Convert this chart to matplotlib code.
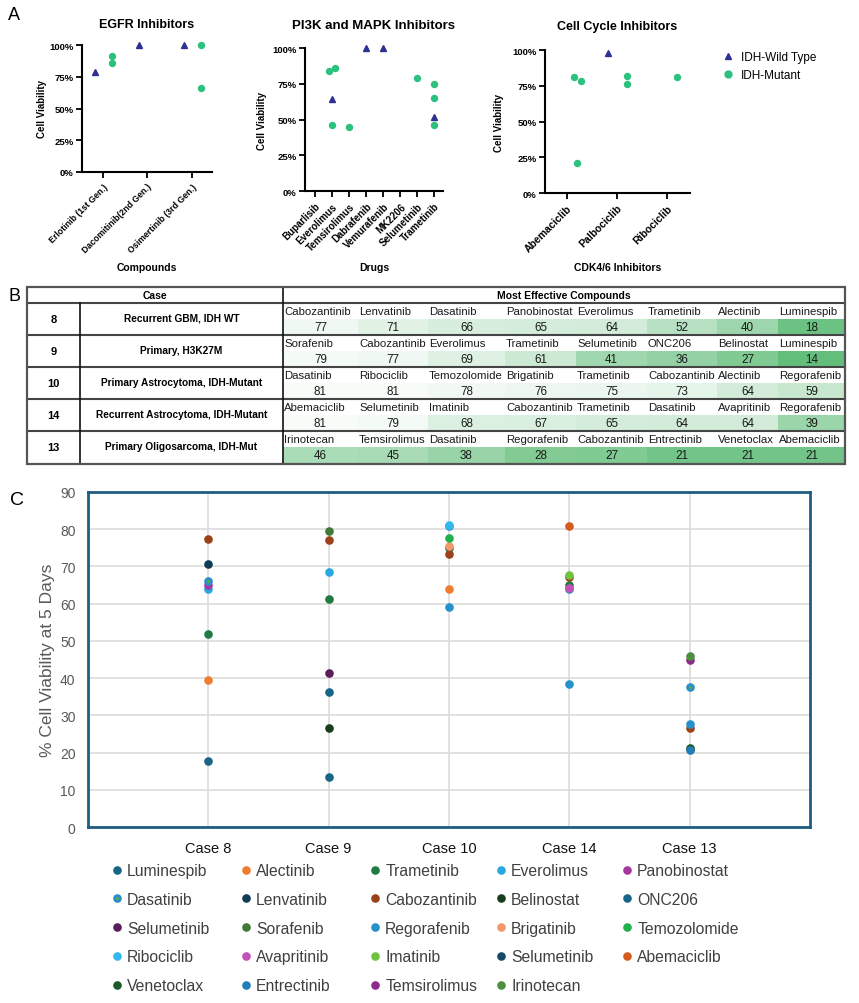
import numpy as np
import matplotlib
matplotlib.use('Agg')
import matplotlib.pyplot as plt
from matplotlib.colors import LinearSegmentedColormap, Normalize
from matplotlib.patches import Rectangle
from matplotlib.lines import Line2D

plt.rcParams['font.family'] = ['Liberation Sans', 'DejaVu Sans']

# ---------------- data: panel A ----------------
egfr_drugs = ['Erlotinib (1st Gen.)', 'Dacomitinib(2nd Gen.)', 'Osimertinib (3rd Gen.)']
egfr_wt = [79, 100, 100]
egfr_mut = [[91, 86], [], [100, 66]]

pi3k_drugs = ['Buparlisib', 'Everolimus', 'Temsirolimus', 'Dabrafenib',
              'Vemurafenib', 'MK2206', 'Selumetinib', 'Trametinib']
pi3k_wt = [np.nan, 64, np.nan, 100, 100, np.nan, np.nan, 52]
pi3k_mut = [[], [84, 86, 46], [45], [], [], [], [79], [75, 65, 46]]

cc_drugs = ['Abemaciclib', 'Palbociclib', 'Ribociclib']
cc_wt = [np.nan, 98, np.nan]
cc_mut = [[81, 78, 21], [82, 76], [81]]

# ---------------- data: panel B ----------------
case_ids = ['8', '9', '10', '14', '13']
case_desc = ['Recurrent GBM, IDH WT', 'Primary, H3K27M', 'Primary Astrocytoma, IDH-Mutant',
             'Recurrent Astrocytoma, IDH-Mutant', 'Primary Oligosarcoma, IDH-Mut']
top_drugs = [
    ['Cabozantinib', 'Lenvatinib', 'Dasatinib', 'Panobinostat', 'Everolimus', 'Trametinib', 'Alectinib', 'Luminespib'],
    ['Sorafenib', 'Cabozantinib', 'Everolimus', 'Trametinib', 'Selumetinib', 'ONC206', 'Belinostat', 'Luminespib'],
    ['Dasatinib', 'Ribociclib', 'Temozolomide', 'Brigatinib', 'Trametinib', 'Cabozantinib', 'Alectinib', 'Regorafenib'],
    ['Abemaciclib', 'Selumetinib', 'Imatinib', 'Cabozantinib', 'Trametinib', 'Dasatinib', 'Avapritinib', 'Regorafenib'],
    ['Irinotecan', 'Temsirolimus', 'Dasatinib', 'Regorafenib', 'Cabozantinib', 'Entrectinib', 'Venetoclax', 'Abemaciclib'],
]
top_values = [
    [77, 71, 66, 65, 64, 52, 40, 18],
    [79, 77, 69, 61, 41, 36, 27, 14],
    [81, 81, 78, 76, 75, 73, 64, 59],
    [81, 79, 68, 67, 65, 64, 64, 39],
    [46, 45, 38, 28, 27, 21, 21, 21],
]

# ---------------- data: panel C ----------------
cases = ['Case 8', 'Case 9', 'Case 10', 'Case 14', 'Case 13']
nan = np.nan
series_names = ['Luminespib', 'Alectinib', 'Trametinib', 'Everolimus', 'Panobinostat',
                'Dasatinib', 'Lenvatinib', 'Cabozantinib', 'Belinostat', 'ONC206',
                'Selumetinib', 'Sorafenib', 'Regorafenib', 'Brigatinib', 'Temozolomide',
                'Ribociclib', 'Avapritinib', 'Imatinib', 'Selumetinib', 'Abemaciclib',
                'Venetoclax', 'Entrectinib', 'Temsirolimus', 'Irinotecan']
series_values = [
    [17.8, 13.5, nan, nan, nan],
    [39.5, nan, 64.0, nan, nan],
    [51.9, 61.3, 75.0, 65.0, nan],
    [64.0, 68.6, nan, nan, nan],
    [64.9, nan, nan, nan, nan],
    [66.1, nan, 81.0, 64.0, 37.5],
    [70.6, nan, nan, nan, nan],
    [77.4, 77.2, 73.4, 67.2, 26.5],
    [nan, 26.7, nan, nan, nan],
    [nan, 36.3, nan, nan, nan],
    [nan, 41.4, nan, nan, nan],
    [nan, 79.4, nan, nan, nan],
    [nan, nan, 59.2, 38.5, 27.7],
    [nan, nan, 75.6, nan, nan],
    [nan, nan, 77.7, nan, nan],
    [nan, nan, 81.2, nan, nan],
    [nan, nan, nan, 64.3, nan],
    [nan, nan, nan, 67.8, nan],
    [nan, nan, nan, nan, nan],
    [nan, nan, nan, 80.9, 21.0],
    [nan, nan, nan, nan, 21.3],
    [nan, nan, nan, nan, 20.7],
    [nan, nan, nan, nan, 44.8],
    [nan, nan, nan, nan, 46.0],
]
series_colors = ['#1a6585', '#ee7d31', '#1f7a44', '#29a8e0', '#a5379e',
                 '#62a844', '#0f3d55', '#9c4219', '#173d1c', '#17658a',
                 '#5c1e5b', '#3f7a36', '#2590c9', '#f2986a', '#22b04c',
                 '#33b8ee', '#c150b7', '#72c242', '#174a66', '#d35b1e',
                 '#1b5a2b', '#1f7eb6', '#8b2b8a', '#4d8f3f']
series_edges = list(series_colors)
series_edges[5] = '#2a8fc6'

# ---------------- figure ----------------
W, H = 859, 1004
fig = plt.figure(figsize=(W / 100, H / 100), dpi=100)


def px_axes(x0, y0, x1, y1):
    return fig.add_axes([x0 / W, 1 - y1 / H, (x1 - x0) / W, (y1 - y0) / H])


def ftext(x, y, s, **kw):
    return fig.text(x / W, 1 - y / H, s, **kw)


WT_COLOR = '#2e3192'
MUT_COLOR = '#2cc17f'


def spread(vals, gap):
    offs = np.zeros(len(vals))
    for a in range(len(vals)):
        for b in range(a + 1, len(vals)):
            if abs(vals[a] - vals[b]) < 4:
                offs[a] -= gap
                offs[b] += gap
    return offs


def inhibitor_panel(box, xlim, drugs, wt, mut, offsets, gap_px, tick_fs,
                    title, title_y, xlabel, ylab_x, title_fs=9):
    x0, y0, x1, y1 = box
    ax = px_axes(*box)
    unit = (x1 - x0) / (xlim[1] - xlim[0])
    pos = np.arange(len(drugs))
    for i in pos:
        if not np.isnan(wt[i]):
            ax.plot(i + offsets[0], wt[i], '^', ms=4, color=WT_COLOR, clip_on=False, zorder=3)
        vals = mut[i]
        if vals:
            jit = spread(vals, gap_px / unit)
            ax.plot(i + offsets[1] + jit, vals, 'o', ms=4.3, color=MUT_COLOR,
                    clip_on=False, zorder=3, ls='')
    ax.set_xlim(*xlim)
    ax.set_ylim(0, 100)
    ax.set_yticks([0, 25, 50, 75, 100])
    ax.set_yticklabels(['0%', '25%', '50%', '75%', '100%'], fontsize=6.8, fontweight='bold')
    ax.set_xticks(pos)
    ax.set_xticklabels(drugs, rotation=45, ha='right', rotation_mode='anchor',
                       fontsize=tick_fs, fontweight='bold')
    for s in ['top', 'right']:
        ax.spines[s].set_visible(False)
    for s in ['left', 'bottom']:
        ax.spines[s].set_linewidth(1.5)
    ax.tick_params(direction='out', length=4, width=1.3, pad=2)
    ax.tick_params(axis='x', pad=3)
    ftext((x0 + x1) / 2, title_y, title, ha='center', va='center',
          fontsize=title_fs, fontweight='bold')
    ftext((x0 + x1) / 2, 268, xlabel, ha='center', va='center', fontsize=7.5, fontweight='bold')
    ftext(ylab_x, (y0 + y1) / 2, 'Cell Viability', rotation=90, ha='center', va='center',
          fontsize=7, fontweight='bold')
    return ax


inhibitor_panel((82, 46, 212, 173), (-0.47, 2.45), egfr_drugs, egfr_wt, egfr_mut,
                (-0.18, 0.2), 3, 6.3, 'EGFR Inhibitors', 25, 'Compounds', 42)
inhibitor_panel((305, 49, 443, 192), (-0.6, 7.5), pi3k_drugs, pi3k_wt, pi3k_mut,
                (0, 0), 3, 7, 'PI3K and MAPK Inhibitors', 26, 'Drugs', 262, title_fs=9.5)
cc_ax = inhibitor_panel((545, 51, 690, 194), (-0.44, 2.46), cc_drugs, cc_wt, cc_mut,
                        (-0.18, 0.2), 3.5, 7.5, 'Cell Cycle Inhibitors', 27,
                        'CDK4/6 Inhibitors', 499)

a_handles = [Line2D([], [], marker='^', ls='', ms=4.5, color=WT_COLOR),
             Line2D([], [], marker='o', ls='', ms=5, color=MUT_COLOR)]
fig.legend(a_handles, ['IDH-Wild Type', 'IDH-Mutant'], loc='upper left',
           bbox_to_anchor=(722 / W, 1 - 52 / H), frameon=False, fontsize=8.5,
           handlelength=1.0, handletextpad=0.6, labelspacing=0.55, borderpad=0,
           borderaxespad=0)

# ---------------- panel B: table ----------------
TX0, TY0, TX1, TY1 = 27, 288, 845, 465
axt = px_axes(TX0, TY0, TX1, TY1)
axt.set_xlim(TX0, TX1)
axt.set_ylim(TY1, TY0)
axt.axis('off')

col_edges = [283, 358, 428, 505, 576, 647, 717, 778, 845]
id_edge, desc_edge = 80, 283
head_h, half_h = 16, 16
cmap = LinearSegmentedColormap.from_list('excel_green', ['#63be7b', '#f8fcf9'])
norm = Normalize(vmin=min(min(r) for r in top_values), vmax=max(max(r) for r in top_values))

axt.text((TX0 + desc_edge) / 2, TY0 + head_h / 2 + 0.5, 'Case', ha='center', va='center',
         fontsize=7.5, fontweight='bold')
axt.text((desc_edge + TX1) / 2, TY0 + head_h / 2 + 0.5, 'Most Effective Compounds',
         ha='center', va='center', fontsize=7.5, fontweight='bold')

for r, (cid, desc, drugs, vals) in enumerate(zip(case_ids, case_desc, top_drugs, top_values)):
    top = TY0 + head_h + r * 2 * half_h
    axt.text((TX0 + id_edge) / 2, top + half_h, cid, ha='center', va='center',
             fontsize=8, fontweight='bold')
    axt.text((id_edge + desc_edge) / 2, top + half_h - 1, desc, ha='center', va='center',
             fontsize=7.3, fontweight='bold')
    for c, (d, v) in enumerate(zip(drugs, vals)):
        cx0, cx1 = col_edges[c], col_edges[c + 1]
        axt.add_patch(Rectangle((cx0, top + half_h), cx1 - cx0, half_h,
                                facecolor=cmap(norm(v)), edgecolor='none', zorder=1))
        axt.text(cx0 + 1, top + half_h / 2 + 0.5, d, ha='left', va='center', fontsize=8.2,
                 color='#1a1a1a', zorder=3)
        axt.text((cx0 + cx1) / 2, top + 1.5 * half_h + 0.5, str(v), ha='center', va='center',
                 fontsize=8.4, color='#1a1a1a', zorder=3)
    if r > 0:
        axt.plot([TX0, TX1], [top, top], color='#444444', lw=1.5, zorder=4, clip_on=False)

axt.plot([TX0, TX1], [TY0 + head_h] * 2, color='#444444', lw=1.5, zorder=4, clip_on=False)
axt.plot([id_edge, id_edge], [TY0 + head_h, TY1], color='#111111', lw=1.2, zorder=4, clip_on=False)
axt.plot([desc_edge, desc_edge], [TY0, TY1], color='#111111', lw=1.2, zorder=4, clip_on=False)
axt.add_patch(Rectangle((TX0, TY0), TX1 - TX0, TY1 - TY0, facecolor='none',
                        edgecolor='#555555', lw=1.6, zorder=5, clip_on=False))

# ---------------- panel C ----------------
axc = px_axes(88, 493, 810, 828)
xpos = np.arange(1, len(cases) + 1)
MS = 6.2
handles = []
for name, vals, fc, ec in zip(series_names, series_values, series_colors, series_edges):
    mew = 2.0 if ec != fc else 0
    axc.plot(xpos, vals, 'o', ls='', ms=MS - mew, mfc=fc, mec=ec, mew=mew, zorder=3)
    handles.append(Line2D([], [], marker='o', ls='', ms=MS - mew, mfc=fc, mec=ec, mew=mew))

axc.set_xlim(0, len(cases) + 1)
axc.set_ylim(0, 90)
axc.set_yticks(np.arange(0, 91, 10))
axc.set_xticks(xpos)
axc.set_xticklabels(cases, fontsize=10.5, color='#111111')
axc.tick_params(axis='y', length=0, pad=9, labelsize=10, labelcolor='#595959')
axc.tick_params(axis='x', length=0, pad=10)
axc.grid(True, color='#dcdcdc', lw=1.2, zorder=0)
axc.set_axisbelow(True)
for s in axc.spines.values():
    s.set_color('#1f5c80')
    s.set_linewidth(2)
ftext(48, 660, '% Cell Viability at 5 Days', rotation=90, ha='center', va='center',
      fontsize=12.5, color='#595959')

ncols = 5
col_x = [117, 246, 375, 501, 627]
for c in range(ncols):
    idx = list(range(c, len(series_names), ncols))
    fig.legend([handles[i] for i in idx], [series_names[i] for i in idx], loc='upper left',
               bbox_to_anchor=((col_x[c] - 4) / W, 1 - 864 / H), frameon=False,
               fontsize=11.3, labelcolor='#404040', handlelength=0.5, handletextpad=0.4,
               labelspacing=0.88, borderpad=0, borderaxespad=0)

# ---------------- panel letters ----------------
ftext(8, 15, 'A', fontsize=13, ha='left', va='center')
ftext(8, 297, 'B', fontsize=13, ha='left', va='center')
ftext(10, 501, 'C', fontsize=14, ha='left', va='center')

fig.savefig('out.png', dpi=100)
